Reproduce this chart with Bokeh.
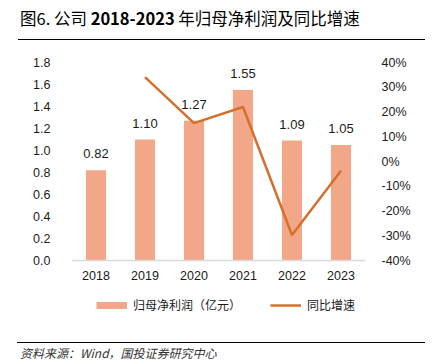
from bokeh.plotting import figure
from bokeh.layouts import column
from bokeh.models import (ColumnDataSource, FactorRange, Range1d, LinearAxis, FixedTicker,
                          NumeralTickFormatter, Legend, LegendItem, Div)
from bokeh.core.properties import value
from bokeh.embed import file_html
from bokeh.resources import INLINE

years = ["2018", "2019", "2020", "2021", "2022", "2023"]
profit = [0.82, 1.10, 1.27, 1.55, 1.09, 1.05]
profit_labels = ["0.82", "1.10", "1.27", "1.55", "1.09", "1.05"]
yoy_years = ["2019", "2020", "2021", "2022", "2023"]
yoy = [0.341, 0.155, 0.220, -0.297, -0.037]
left_ticks = [0.0, 0.2, 0.4, 0.6, 0.8, 1.0, 1.2, 1.4, 1.6, 1.8]
right_ticks = [-0.4, -0.3, -0.2, -0.1, 0.0, 0.1, 0.2, 0.3, 0.4]
title_a = "图6. 公司"
title_b = "2018-2023"
title_c = "年归母净利润及同比增速"
source_text = "资料来源：Wind，国投证券研究中心"
series_names = ["归母净利润（亿元）", "同比增速"]

BAR = "#F2A888"
LINE = "#D5702C"
TXT = "#1a1a1a"
NUM = "Liberation Sans"
CJK = "Noto Sans CJK SC"
W = 436

# ---- title: Div host styled by Bokeh (underline = host bottom border)
title = Div(text=f"{title_a} <b>{title_b}</b> {title_c}", width=407, height=40,
            margin=(0, 11, 0, 18),
            styles={"border-bottom": "1.5px solid #000", "font-family": f"'{CJK}'",
                    "font-size": "16.5px", "line-height": "37px", "padding-left": "2px",
                    "color": "#000", "white-space": "nowrap", "box-sizing": "border-box",
                    "height": "38.3px", "overflow": "visible"})

# ---- main chart (frame extends below the zero line to hold the legend)
p = figure(width=W, height=302, x_range=FactorRange(factors=years, range_padding=0),
           y_range=Range1d(-0.509, 1.8), output_backend="svg", toolbar_location=None,
           min_border_left=71, min_border_right=71, min_border_top=22, min_border_bottom=26)
p.extra_y_ranges = {"pct": Range1d(-0.626, 0.4)}
p.outline_line_color = None
p.xgrid.visible = False
p.ygrid.visible = False

bars = ColumnDataSource(dict(x=years, y=profit, t=profit_labels))
p.vbar(x="x", top="y", width=0.41, source=bars, fill_color=BAR, line_color=None)
p.text(x="x", y="y", text="t", source=bars, y_offset=-16.5, text_align="center",
       text_baseline="middle", text_font=value(NUM), text_font_size="13px", text_color=TXT)

ls = ColumnDataSource(dict(x=yoy_years, y=yoy))
line_r = p.line(x="x", y="y", source=ls, y_range_name="pct", line_color=LINE, line_width=2.5)
# legend proxy for the bars: a one-point line draws nothing in the plot
sw_bar = p.line(x=years[:1], y=profit[:1], line_color=BAR, line_width=7, line_cap="butt")

xa = p.xaxis[0]
xa.fixed_location = 0
xa.axis_line_color = "#d9d9d9"
xa.axis_line_width = 1.5
xa.major_tick_line_color = None
xa.minor_tick_line_color = None
xa.major_label_standoff = 4
xa.major_label_text_font = NUM
xa.major_label_text_font_size = "12.5px"
xa.major_label_text_color = TXT

ya = p.yaxis[0]
ya.ticker = FixedTicker(ticks=left_ticks)
ya.formatter = NumeralTickFormatter(format="0.0")
ya.axis_line_color = None
ya.major_tick_line_color = None
ya.minor_tick_line_color = None
ya.major_label_standoff = 15
ya.major_label_text_font = NUM
ya.major_label_text_font_size = "12.5px"
ya.major_label_text_color = TXT

ra = LinearAxis(y_range_name="pct", ticker=FixedTicker(ticks=right_ticks),
                formatter=NumeralTickFormatter(format="0%"))
ra.axis_line_color = None
ra.major_tick_line_color = None
ra.minor_tick_line_color = None
ra.major_label_standoff = 10
ra.major_label_text_font = NUM
ra.major_label_text_font_size = "12.5px"
ra.major_label_text_color = TXT
p.add_layout(ra, "right")

legend = Legend(items=[LegendItem(label=series_names[0], renderers=[sw_bar]),
                       LegendItem(label=series_names[1], renderers=[line_r])],
                location=(25, 3), orientation="horizontal", border_line_color=None,
                background_fill_alpha=0, padding=0, margin=0, spacing=29, label_standoff=6,
                glyph_width=31, glyph_height=14, label_height=14,
                label_text_font=CJK, label_text_font_size="12px", label_text_color=TXT)
p.add_layout(legend)

# ---- source: Div host styled by Bokeh (rule = host top border)
source = Div(text=source_text, width=408, height=22, margin=(0, 11, 0, 17),
             styles={"border-top": "1.5px solid #000", "font-family": f"'{CJK}'",
                     "font-style": "italic", "font-size": "12px", "line-height": "20px",
                     "padding-left": "3px", "color": "#333", "white-space": "nowrap",
                     "box-sizing": "border-box"})

layout = column(title, p, source, spacing=0)
open("out.html", "w").write(file_html(layout, INLINE))
